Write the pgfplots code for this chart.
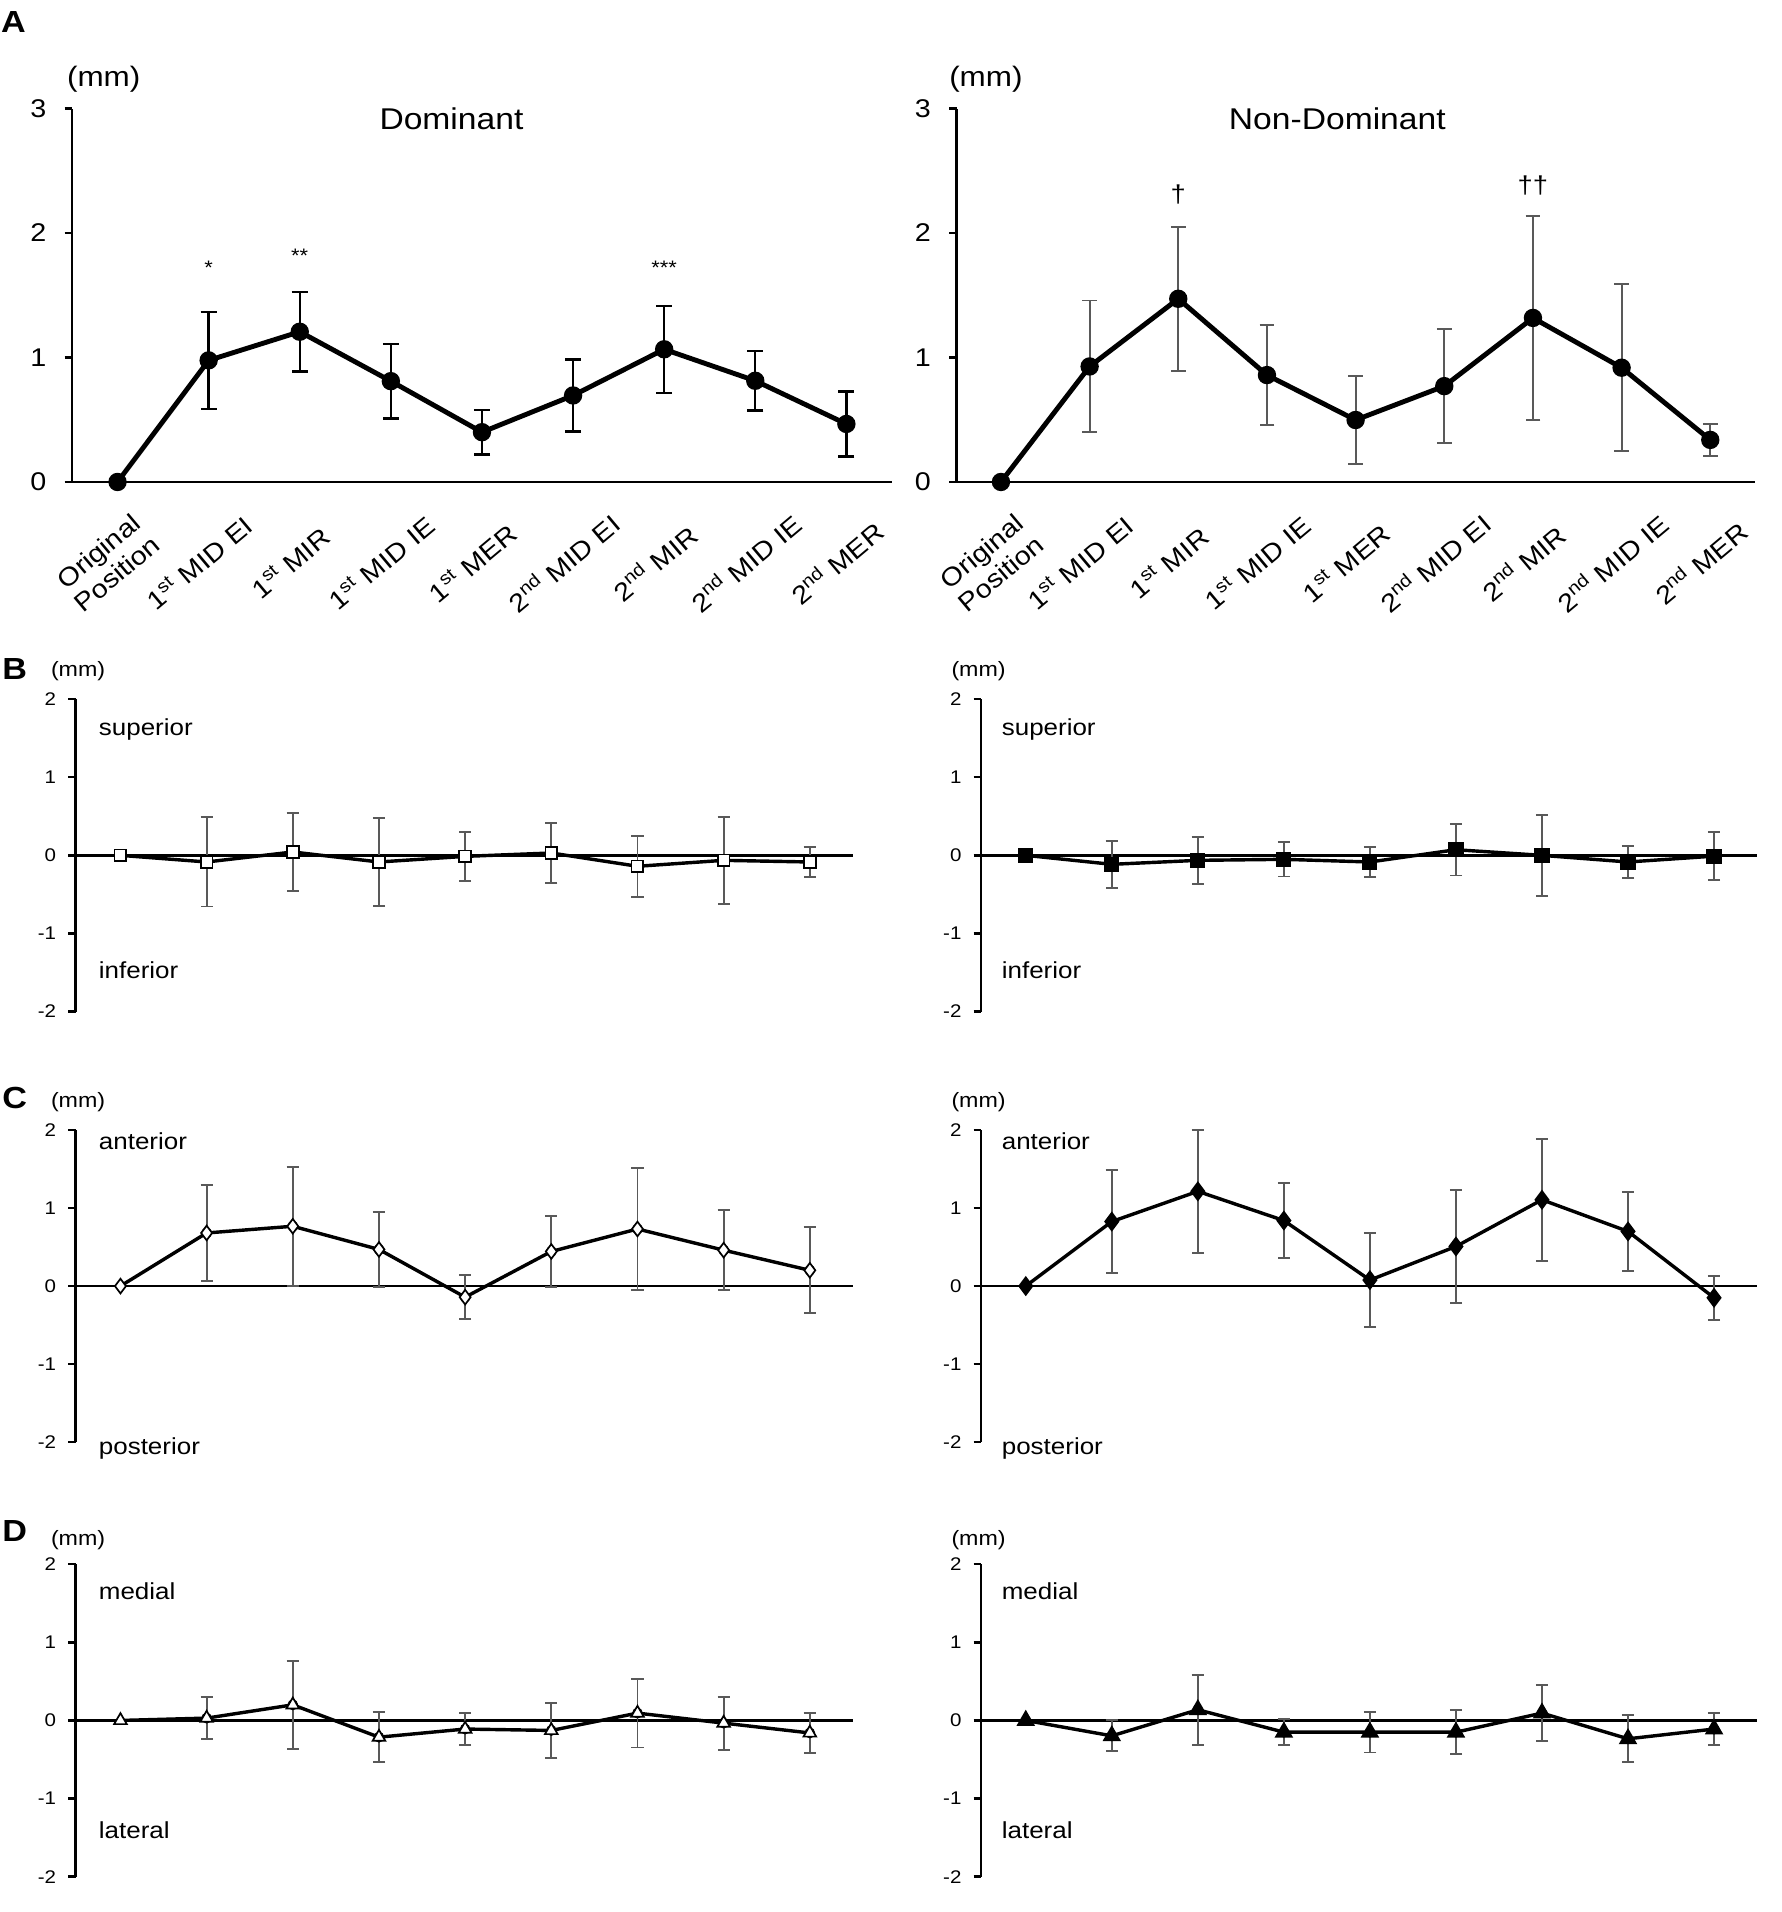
\documentclass[border=0pt]{standalone}
\usepackage{fontspec}
\setmainfont{Liberation Sans}[FakeStretch=1.12]
\usepackage{pgfplots}
\usepackage{pgfplotstable}
\pgfplotsset{compat=1.18}

\definecolor{ebar}{HTML}{595959}

% x = position, y = mean, e = SD
\pgfplotstableread{
x y e
0 0 0
1 0.977 0.39
2 1.207 0.32
3 0.810 0.30
4 0.400 0.18
5 0.695 0.29
6 1.066 0.35
7 0.813 0.24
8 0.466 0.26
}\tabAL
\pgfplotstableread{
x y e
0 0 0
1 0.928 0.53
2 1.472 0.58
3 0.859 0.40
4 0.498 0.35
5 0.770 0.46
6 1.318 0.82
7 0.918 0.67
8 0.338 0.13
}\tabAR
\pgfplotstableread{
x y e
0 0 0
1 -0.085 0.57
2 0.043 0.50
3 -0.085 0.56
4 -0.013 0.31
5 0.030 0.38
6 -0.140 0.39
7 -0.064 0.56
8 -0.085 0.19
}\tabBL
\pgfplotstableread{
x y e
0 0 0
1 -0.115 0.30
2 -0.064 0.30
3 -0.051 0.22
4 -0.085 0.19
5 0.072 0.33
6 0.000 0.52
7 -0.085 0.20
8 -0.010 0.31
}\tabBR
\pgfplotstableread{
x y e
0 0 0
1 0.680 0.62
2 0.766 0.76
3 0.469 0.48
4 -0.142 0.28
5 0.443 0.45
6 0.731 0.78
7 0.460 0.51
8 0.202 0.55
}\tabCL
\pgfplotstableread{
x y e
0 0 0
1 0.826 0.66
2 1.213 0.79
3 0.839 0.48
4 0.077 0.60
5 0.507 0.72
6 1.105 0.78
7 0.700 0.51
8 -0.150 0.28
}\tabCR
\pgfplotstableread{
x y e
0 0 0
1 0.030 0.27
2 0.200 0.56
3 -0.214 0.32
4 -0.110 0.21
5 -0.128 0.35
6 0.094 0.44
7 -0.034 0.34
8 -0.160 0.26
}\tabDL
\pgfplotstableread{
x y e
0 0 0
1 -0.197 0.20
2 0.137 0.45
3 -0.150 0.165
4 -0.150 0.26
5 -0.150 0.28
6 0.094 0.36
7 -0.235 0.30
8 -0.110 0.21
}\tabDR

\pgfplotsset{
  base/.style={
    scale only axis,
    anchor=south west,
    axis y line*=left,
    axis x line*=middle,
    y axis line style={line width=1pt},
    x axis line style={line width=1pt},
    tick align=outside,
    ytick style={black, line width=1pt},
    major tick length=3pt,
    clip=false,
  },
  top/.style={
    base, height=153pt,
    ymin=0, ymax=3, ytick={0,1,2,3}, yticklabels={0,1,2,3},
    yticklabel style={font=\fontsize{10.5}{12}\selectfont, xshift=-4pt},
    xmin=-0.5, xmax=8.5,
    xtick={0,...,8}, xtick style={draw=none},
    xticklabels={{Original\\Position}, 1\textsuperscript{st} MID EI, 1\textsuperscript{st} MIR,
      1\textsuperscript{st} MID IE, 1\textsuperscript{st} MER, 2\textsuperscript{nd} MID EI,
      2\textsuperscript{nd} MIR, 2\textsuperscript{nd} MID IE, 2\textsuperscript{nd} MER},
    xticklabel style={font=\fontsize{10.5}{12}\selectfont, align=center,
      xshift=-4pt, yshift=-30pt, rotate=40, anchor=center},
  },
  small/.style={
    base, height=128pt,
    ymin=-2, ymax=2, ytick={-2,...,2}, yticklabels={-2,-1,0,1,2},
    yticklabel style={font=\fontsize{7.5}{9}\selectfont, xshift=-1.5pt},
    xmin=-0.52, xmax=8.5, xtick=\empty,
  },
  ebars/.style={only marks, mark=none, forget plot,
    skip coords between index={0}{1},
    error bars/.cd, y dir=both, y explicit,
    error bar style={#1},
    error mark options={rotate=90, mark size=3pt, #1}},
}

\begin{document}
\begin{tikzpicture}
\useasboundingbox (0,0) rectangle (730pt,-783.5pt);

% ---- A ----
\begin{axis}[top, at={(29.5pt,-197.5pt)}, width=336pt]
  \addplot[ebars={black, line width=1pt, mark size=3.3pt}] table[x=x, y=y, y error=e] \tabAL;
  \addplot[black, line width=2pt, mark=*, mark size=2.75pt] table[x=x, y=y] \tabAL;
  \node[font=\fontsize{8}{9}\selectfont] at (axis cs:1,1.72) {*};
  \node[font=\fontsize{8}{9}\selectfont] at (axis cs:2,1.82) {**};
  \node[font=\fontsize{8}{9}\selectfont] at (axis cs:6,1.72) {***};
\end{axis}
\begin{axis}[top, at={(392pt,-197.5pt)}, width=327pt]
  \addplot[ebars={ebar, line width=0.8pt}] table[x=x, y=y, y error=e] \tabAR;
  \addplot[black, line width=2pt, mark=*, mark size=2.75pt] table[x=x, y=y] \tabAR;
  \node[font=\fontsize{10}{11}\selectfont] at (axis cs:2,2.31) {†};
  \node[font=\fontsize{10}{11}\selectfont] at (axis cs:6,2.38) {††};
\end{axis}

% ---- B ----
\begin{axis}[small, at={(31pt,-414.5pt)}, width=318.5pt]
  \addplot[ebars={ebar, line width=0.8pt, mark size=2.5pt}] table[x=x, y=y, y error=e] \tabBL;
  \addplot[black, line width=1.4pt, mark=square*, mark size=2.4pt,
    mark options={fill=white, line width=0.7pt}] table[x=x, y=y] \tabBL;
\end{axis}
\begin{axis}[small, at={(402pt,-414.5pt)}, width=318pt]
  \addplot[ebars={ebar, line width=0.8pt, mark size=2.5pt}] table[x=x, y=y, y error=e] \tabBR;
  \addplot[black, line width=1.4pt, mark=square*, mark size=2.4pt] table[x=x, y=y] \tabBR;
\end{axis}

% ---- C ----
\begin{axis}[small, at={(31pt,-591pt)}, width=318.5pt]
  \addplot[ebars={ebar, line width=0.8pt, mark size=2.5pt}] table[x=x, y=y, y error=e] \tabCL;
  \addplot[black, line width=1.4pt, mark=diamond*, mark size=3pt,
    mark options={fill=white, line width=0.7pt}] table[x=x, y=y] \tabCL;
\end{axis}
\begin{axis}[small, at={(402pt,-591pt)}, width=318pt]
  \addplot[ebars={ebar, line width=0.8pt, mark size=2.5pt}] table[x=x, y=y, y error=e] \tabCR;
  \addplot[black, line width=1.4pt, mark=diamond*, mark size=3pt] table[x=x, y=y] \tabCR;
\end{axis}

% ---- D ----
\begin{axis}[small, at={(31pt,-769pt)}, width=318.5pt]
  \addplot[ebars={ebar, line width=0.8pt, mark size=2.5pt}] table[x=x, y=y, y error=e] \tabDL;
  \addplot[black, line width=1.4pt, mark=triangle*, mark size=3pt,
    mark options={fill=white, line width=0.7pt}] table[x=x, y=y] \tabDL;
\end{axis}
\begin{axis}[small, at={(402pt,-769pt)}, width=318pt]
  \addplot[ebars={ebar, line width=0.8pt, mark size=2.5pt}] table[x=x, y=y, y error=e] \tabDR;
  \addplot[black, line width=1.4pt, mark=triangle*, mark size=3pt] table[x=x, y=y] \tabDR;
\end{axis}

% panel letters
\begin{scope}[font=\fontsize{12.5}{14}\selectfont\bfseries]
  \node at (5.5pt,-9pt) {A};
  \node at (6pt,-274pt) {B};
  \node at (6pt,-450pt) {C};
  \node at (6pt,-627.5pt) {D};
\end{scope}

% units and titles
\begin{scope}[font=\fontsize{11.5}{13}\selectfont]
  \node at (42.5pt,-32.5pt) {(mm)};
  \node at (404pt,-32.5pt) {(mm)};
\end{scope}
\begin{scope}[font=\fontsize{12.3}{14}\selectfont]
  \node at (185pt,-48.5pt) {Dominant};
  \node at (548pt,-48.5pt) {Non-Dominant};
\end{scope}
\begin{scope}[font=\fontsize{8.5}{10}\selectfont]
  \foreach \yy in {-275,-451.5,-631} {
    \node at (32pt,\yy pt) {(mm)};
    \node at (401pt,\yy pt) {(mm)};
  }
\end{scope}

% direction labels
\begin{scope}[font=\fontsize{9.5}{11}\selectfont]
  \foreach \xx in {37,407} {
    \node[anchor=west] at (\xx pt,-299pt) {superior};
    \node[anchor=west] at (\xx pt,-397.5pt) {inferior};
    \node[anchor=west] at (\xx pt,-467.5pt) {anterior};
    \node[anchor=west] at (\xx pt,-593.5pt) {posterior};
    \node[anchor=west] at (\xx pt,-652pt) {medial};
    \node[anchor=west] at (\xx pt,-750pt) {lateral};
  }
\end{scope}
\end{tikzpicture}
\end{document}
